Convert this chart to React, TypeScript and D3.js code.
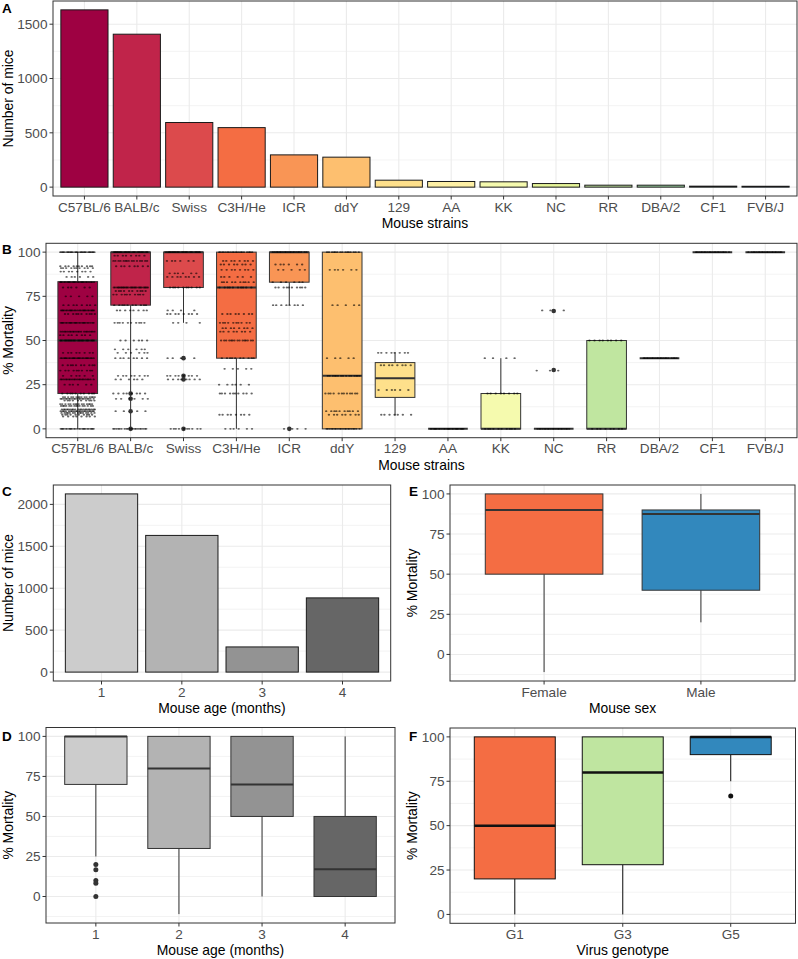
import React from 'react';
import * as d3 from 'd3';

// ---------- Data ----------
const strains = ["C57BL/6", "BALB/c", "Swiss", "C3H/He", "ICR", "ddY", "129", "AA", "KK", "NC", "RR", "DBA/2", "CF1", "FVB/J"];
const strainCounts = [1632, 1408, 595, 548, 297, 276, 64, 52, 49, 33, 18, 18, 9, 8];
const strainColors = ["#9E0142", "#C0244A", "#DC4A4C", "#F46D43", "#F99555", "#FDBF6F", "#FEE08B", "#FEF0A5", "#F5FAAE", "#E6F598", "#C0E6A0", "#A0D8A4", "#66C2A5", "#3288BD"];
const countTicksA = [0, 500, 1000, 1500];
const countMinorA = [250, 750, 1250];

// box stats per strain: [lo, q1, median, q3, hi]
const strainBoxLo = [0, 0, 60, 0, 70, 0, 7.5, 0, 0, 0, 0, 40, 100, 100];
const strainBoxQ1 = [20, 70, 80, 40, 83, 0, 17.8, 0, 0, 0, 0, 40, 100, 100];
const strainBoxMed = [50, 100, 100, 80, 100, 30, 28.6, 0, 0, 0, 0, 40, 100, 100];
const strainBoxQ3 = [83.3, 100, 100, 100, 100, 100, 37.5, 0, 20, 0, 50, 40, 100, 100];
const strainBoxHi = [100, 100, 100, 100, 100, 100, 43.3, 0, 40, 0, 50, 40, 100, 100];
const strainOutliers: number[][] = [[], [20, 17, 10, 0], [40, 30, 28, 0], [], [0], [], [], [], [], [66.7, 33.3], [], [], [], []];

// observed mortality levels per strain: [value, number of experiments]
const levelsC57: [number, number][] = [[100, 30], [92, 10], [91, 10], [89, 8], [86, 6], [83, 25], [80, 6], [75, 5], [70, 8], [67, 25], [65, 10], [60, 25], [55, 20], [53, 8], [50, 30], [43, 8], [40, 25], [36, 10], [33, 10], [30, 6], [28, 20], [25, 6], [20, 10], [18, 15], [17, 20], [16, 10], [14, 15], [13, 15], [11, 20], [10, 20], [9, 15], [8, 10], [7, 8], [0, 25]];
const levelsBALB: [number, number][] = [[100, 30], [98, 8], [95, 15], [92, 8], [80, 30], [78, 10], [76, 10], [70, 10], [67, 8], [60, 10], [50, 6], [45, 6], [43, 6], [40, 8], [30, 8], [28, 6], [20, 8], [17, 6], [10, 4], [0, 20]];
const levelsSwiss: [number, number][] = [[100, 30], [95, 6], [88, 6], [86, 8], [80, 10], [67, 4], [65, 8], [60, 4], [40, 4], [30, 8], [28, 8], [0, 10]];
const levelsC3H: [number, number][] = [[100, 20], [95, 8], [93, 8], [90, 8], [86, 6], [83, 10], [80, 10], [65, 8], [60, 10], [57, 8], [55, 8], [50, 15], [40, 10], [34, 5], [25, 6], [20, 10], [8, 8], [0, 6]];
const levelsICR: [number, number][] = [[100, 20], [93, 6], [90, 5], [83, 6], [80, 10], [70, 8], [0, 4]];
const levelsDdY: [number, number][] = [[100, 15], [90, 6], [70, 5], [40, 5], [30, 15], [20, 12], [10, 10], [8, 8], [0, 20]];
const levels129: [number, number][] = [[43, 8], [36, 8], [22, 6], [8, 7]];
const levelsAA: [number, number][] = [[0, 25]];
const levelsKK: [number, number][] = [[40, 4], [20, 8], [0, 10]];
const levelsNC: [number, number][] = [[67, 3], [33, 3], [0, 20]];
const levelsRR: [number, number][] = [[50, 8], [0, 8]];
const levelsDBA: [number, number][] = [[40, 20]];
const levelsCF1: [number, number][] = [[100, 20]];
const levelsFVB: [number, number][] = [[100, 20]];
const strainLevels = [levelsC57, levelsBALB, levelsSwiss, levelsC3H, levelsICR, levelsDdY, levels129, levelsAA, levelsKK, levelsNC, levelsRR, levelsDBA, levelsCF1, levelsFVB];

const pctTicks = [0, 25, 50, 75, 100];
const pctMinor = [-12.5, 12.5, 37.5, 62.5, 87.5];

// Age
const ages = ["1", "2", "3", "4"];
const ageCounts = [2125, 1630, 300, 885];
const ageColors = ["#CCCCCC", "#B3B3B3", "#939393", "#666666"];
const countTicksC = [0, 500, 1000, 1500, 2000];
const countMinorC = [250, 750, 1250, 1750];
const ageLo = [25, -11, 0, 0];
const ageQ1 = [70, 30, 50, 0];
const ageMed = [100, 80, 70, 17];
const ageQ3 = [100, 100, 100, 50];
const ageHi = [100, 100, 100, 100];
const ageOutliers: number[][] = [[20, 16.7, 10, 8.3, 0], [], [], []];

// Sex
const sexes = ["Female", "Male"];
const sexColors = ["#F46D43", "#3288BD"];
const sexLo = [-11, 20];
const sexQ1 = [50, 40];
const sexMed = [90, 87.5];
const sexQ3 = [100, 90];
const sexHi = [100, 100];

// Genotype
const genotypes = ["G1", "G3", "G5"];
const genoColors = ["#F46D43", "#BFE5A0", "#3288BD"];
const genoLo = [0, 0, 75];
const genoQ1 = [20, 28, 90];
const genoMed = [50, 80, 100];
const genoQ3 = [100, 100, 100];
const genoHi = [100, 100, 100];
const genoOutliers: number[][] = [[], [], [66.7]];

// ---------- Rendering ----------
const FONT = "'Liberation Sans', Arial, Helvetica, sans-serif";
const GRID = "#EBEBEB";
const TICK_COL = "#4D4D4D";
const BORDER = "#333333";
const TICK_FS = 13.6;
const TITLE_FS = 13.9;

type Scales = { x: d3.ScalePoint<string>; y: d3.ScaleLinear<number, number>; step: number };

function Panel(props: {
  x0: number; x1: number; y0: number; y1: number;
  cats: string[]; yDomain: [number, number]; yTicks: number[]; yMinor: number[];
  label: string; labelX: number; labelY: number;
  xTitle: string; yTitle: string; yTitleX: number;
  render: (s: Scales) => React.ReactNode;
}) {
  const { x0, x1, y0, y1, cats, yDomain, yTicks, yMinor, label, labelX, labelY, xTitle, yTitle, yTitleX, render } = props;
  const x = d3.scalePoint<string>().domain(cats).range([x0, x1]).padding(0.6);
  const y = d3.scaleLinear().domain(yDomain).range([y1, y0]);
  const step = x.step();
  const inRange = (v: number) => v >= yDomain[0] && v <= yDomain[1];
  return (
    <g>
      <rect x={x0} y={y0} width={x1 - x0} height={y1 - y0} fill="#fff" />
      {yMinor.filter(inRange).map((v) => (
        <line key={"mn" + v} x1={x0} x2={x1} y1={y(v)} y2={y(v)} stroke={GRID} strokeWidth={0.6} />
      ))}
      {yTicks.filter(inRange).map((v) => (
        <line key={"mj" + v} x1={x0} x2={x1} y1={y(v)} y2={y(v)} stroke={GRID} strokeWidth={1.1} />
      ))}
      {cats.map((c) => (
        <line key={"xg" + c} x1={x(c)} x2={x(c)} y1={y0} y2={y1} stroke={GRID} strokeWidth={1.1} />
      ))}
      {render({ x, y, step })}
      <rect x={x0} y={y0} width={x1 - x0} height={y1 - y0} fill="none" stroke={BORDER} strokeWidth={1} />
      {yTicks.filter(inRange).map((v) => (
        <g key={"yt" + v}>
          <line x1={x0 - 3.5} x2={x0} y1={y(v)} y2={y(v)} stroke={BORDER} strokeWidth={1} />
          <text x={x0 - 5.5} y={y(v)} dy="0.35em" textAnchor="end" fontSize={TICK_FS} fill={TICK_COL} fontFamily={FONT}>{v}</text>
        </g>
      ))}
      {cats.map((c) => (
        <g key={"xt" + c}>
          <line x1={x(c)} x2={x(c)} y1={y1} y2={y1 + 3.5} stroke={BORDER} strokeWidth={1} />
          <text x={x(c)} y={y1 + 15.5} textAnchor="middle" fontSize={TICK_FS} fill={TICK_COL} fontFamily={FONT}>{c}</text>
        </g>
      ))}
      <text x={(x0 + x1) / 2} y={y1 + 31.8} textAnchor="middle" fontSize={TITLE_FS} fill="#000" fontFamily={FONT}>{xTitle}</text>
      <text transform={`translate(${yTitleX},${(y0 + y1) / 2}) rotate(-90)`} textAnchor="middle" fontSize={TITLE_FS} fill="#000" fontFamily={FONT}>{yTitle}</text>
      <text x={labelX} y={labelY} fontSize={13.5} fontWeight="bold" fill="#000" fontFamily={FONT}>{label}</text>
    </g>
  );
}

function Boxes(props: {
  s: Scales; cats: string[]; lo: number[]; q1: number[]; med: number[]; q3: number[]; hi: number[];
  colors: string[]; outliers?: number[][]; stroke?: string; medWidth?: number; outR?: number;
}) {
  const { s, cats, lo, q1, med, q3, hi, colors, outliers, stroke = "#333333", medWidth = 2, outR = 2.3 } = props;
  const w = s.step * 0.75;
  return (
    <g>
      {cats.map((c, i) => {
        const cx = s.x(c) as number;
        return (
          <g key={c}>
            <line x1={cx} x2={cx} y1={s.y(hi[i])} y2={s.y(q3[i])} stroke={stroke} strokeWidth={1} />
            <line x1={cx} x2={cx} y1={s.y(q1[i])} y2={s.y(lo[i])} stroke={stroke} strokeWidth={1} />
            <rect x={cx - w / 2} y={s.y(q3[i])} width={w} height={Math.max(0, s.y(q1[i]) - s.y(q3[i]))} fill={colors[i]} stroke={stroke} strokeWidth={1} />
            <line x1={cx - w / 2} x2={cx + w / 2} y1={s.y(med[i])} y2={s.y(med[i])} stroke={stroke} strokeWidth={medWidth} />
            {(outliers ? outliers[i] : []).map((v, j) => (
              <circle key={j} cx={cx} cy={s.y(v)} r={outR} fill={stroke} />
            ))}
          </g>
        );
      })}
    </g>
  );
}

function Bars(props: { s: Scales; cats: string[]; values: number[]; colors: string[] }) {
  const { s, cats, values, colors } = props;
  const w = s.step * 0.9;
  return (
    <g>
      {cats.map((c, i) => (
        <rect key={c} x={(s.x(c) as number) - w / 2} y={s.y(values[i])} width={w} height={s.y(0) - s.y(values[i])}
          fill={colors[i]} stroke="#1a1a1a" strokeWidth={1} />
      ))}
    </g>
  );
}

function JitterPoints(props: { s: Scales }) {
  const { s } = props;
  const half = s.step * 0.33;
  const pts: React.ReactNode[] = [];
  strains.forEach((c, si) => {
    const cx = s.x(c) as number;
    let k = 0;
    strainLevels[si].forEach(([v, n], ri) => {
      for (let j = 0; j < n; j++) {
        const f = (k * 0.6180339887 + ri * 0.37 + si * 0.13) % 1;
        k++;
        pts.push(<ellipse key={si + "-" + ri + "-" + j} cx={cx - half + 2 * half * f} cy={s.y(v)} rx={1.2} ry={0.9} fill="#000" fillOpacity={0.6} />);
      }
    });
  });
  return <g>{pts}</g>;
}

function expandDomain(lo: number, hi: number): [number, number] {
  const d = (hi - lo) * 0.05;
  return [lo - d, hi + d];
}

export default function App() {
  const maxA = d3.max(strainCounts) as number;
  const maxC = d3.max(ageCounts) as number;
  const minD = Math.min(d3.min(ageLo) as number, 0);
  const minE = d3.min(sexLo) as number;
  return (
    <svg width={798} height={959} style={{ position: "absolute", left: 0, top: 0, background: "#fff" }}>
      <rect width={798} height={959} fill="#fff" />
      <Panel x0={53} x1={797} y0={1} y1={196} cats={strains} yDomain={expandDomain(0, maxA)}
        yTicks={countTicksA} yMinor={countMinorA} label="A" labelX={2} labelY={13}
        xTitle="Mouse strains" yTitle="Number of mice" yTitleX={13}
        render={(s) => <Bars s={s} cats={strains} values={strainCounts} colors={strainColors} />} />
      <Panel x0={46} x1={797} y0={243.3} y1={437.7} cats={strains} yDomain={[-5, 105]}
        yTicks={pctTicks} yMinor={pctMinor} label="B" labelX={2} labelY={253.5}
        xTitle="Mouse strains" yTitle="% Mortality" yTitleX={13}
        render={(s) => (
          <g>
            <Boxes s={s} cats={strains} lo={strainBoxLo} q1={strainBoxQ1} med={strainBoxMed} q3={strainBoxQ3} hi={strainBoxHi}
              colors={strainColors} outliers={strainOutliers} medWidth={2} />
            <JitterPoints s={s} />
          </g>
        )} />
      <Panel x0={53.3} x1={390.7} y0={485} y1={681} cats={ages} yDomain={expandDomain(0, maxC)}
        yTicks={countTicksC} yMinor={countMinorC} label="C" labelX={2} labelY={496}
        xTitle="Mouse age (months)" yTitle="Number of mice" yTitleX={13}
        render={(s) => <Bars s={s} cats={ages} values={ageCounts} colors={ageColors} />} />
      <Panel x0={450} x1={795} y0={485} y1={681} cats={sexes} yDomain={expandDomain(minE, 100)}
        yTicks={pctTicks} yMinor={pctMinor} label="E" labelX={409} labelY={496}
        xTitle="Mouse sex" yTitle="% Mortality" yTitleX={417}
        render={(s) => <Boxes s={s} cats={sexes} lo={sexLo} q1={sexQ1} med={sexMed} q3={sexQ3} hi={sexHi} colors={sexColors} />} />
      <Panel x0={46} x1={395} y0={727.5} y1={923} cats={ages} yDomain={expandDomain(minD, 100)}
        yTicks={pctTicks} yMinor={pctMinor} label="D" labelX={2} labelY={741}
        xTitle="Mouse age (months)" yTitle="% Mortality" yTitleX={13}
        render={(s) => <Boxes s={s} cats={ages} lo={ageLo} q1={ageQ1} med={ageMed} q3={ageQ3} hi={ageHi} colors={ageColors} outliers={ageOutliers} outR={2.5} />} />
      <Panel x0={450} x1={795.5} y0={728} y1={923.3} cats={genotypes} yDomain={[-5, 105]}
        yTicks={pctTicks} yMinor={pctMinor} label="F" labelX={409} labelY={741}
        xTitle="Virus genotype" yTitle="% Mortality" yTitleX={417}
        render={(s) => <Boxes s={s} cats={genotypes} lo={genoLo} q1={genoQ1} med={genoMed} q3={genoQ3} hi={genoHi} colors={genoColors} outliers={genoOutliers} stroke="#111" medWidth={2.5} outR={2.5} />} />
    </svg>
  );
}
